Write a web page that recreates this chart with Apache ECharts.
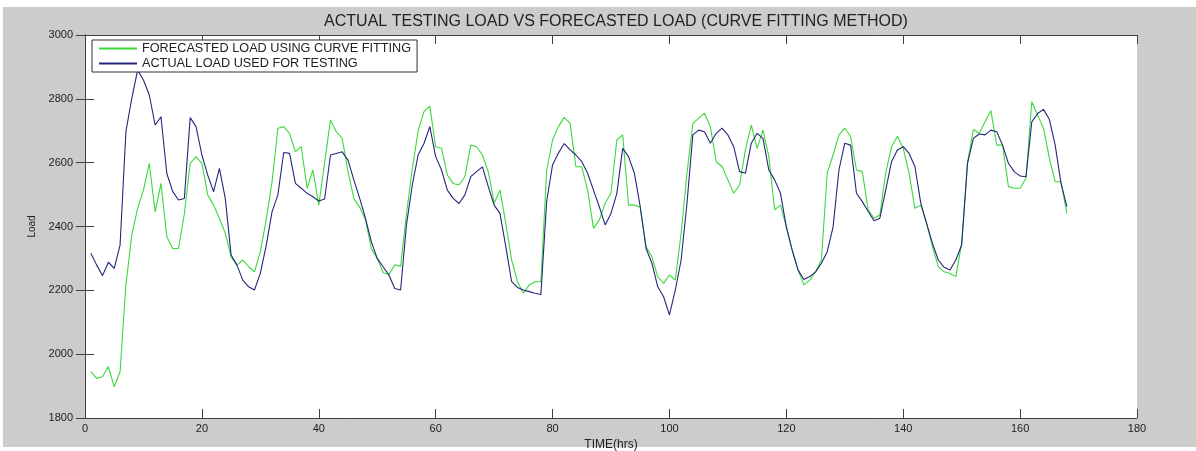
<!DOCTYPE html>
<html>
<head>
<meta charset="utf-8">
<script src="https://cdn.jsdelivr.net/npm/echarts@6/dist/echarts.min.js"></script>
<style>
html,body{margin:0;padding:0;background:#ffffff;}
#c{width:1196px;height:451px;}
</style>
</head>
<body>
<div id="c"></div>
<script>
const hours = Array.from({length:168}, (_, i) => i + 1);
const forecastLoad = [
1945,1924,1929,1961,1898,1945,2217,2373,2457,2514,2598,2446,2535,2368,2331,2331,2440,2598,2619,2598,
2499,2467,2425,2379,2305,2279,2295,2274,2258,2321,2420,2540,2708,2713,2692,2634,2650,2520,2577,2467,
2600,2734,2697,2676,2572,2488,2460,2420,2330,2300,2255,2250,2280,2275,2440,2580,2700,2760,2777,2650,
2645,2561,2535,2530,2556,2655,2650,2624,2572,2473,2514,2410,2295,2227,2191,2217,2227,2227,2577,2671,
2713,2742,2723,2587,2587,2514,2394,2420,2473,2505,2671,2687,2467,2467,2460,2337,2305,2243,2222,2248,
2232,2379,2567,2723,2739,2755,2713,2603,2588,2546,2504,2530,2640,2718,2645,2702,2619,2452,2467,2399,
2326,2264,2217,2232,2258,2295,2567,2624,2687,2708,2682,2577,2572,2452,2426,2436,2567,2650,2683,2645,
2567,2457,2467,2410,2337,2274,2258,2253,2243,2347,2600,2704,2692,2728,2763,2655,2655,2525,2520,2520,
2551,2791,2749,2708,2614,2540,2540,2441
];
const actualLoad = [
2316,2279,2246,2288,2269,2342,2697,2801,2890,2859,2812,2718,2744,2566,2510,2483,2488,2741,2713,2624,
2561,2509,2582,2488,2311,2279,2232,2211,2201,2253,2340,2446,2499,2632,2629,2535,2520,2504,2493,2480,
2486,2624,2629,2634,2608,2546,2488,2425,2352,2300,2274,2248,2206,2201,2405,2530,2624,2660,2713,2619,
2577,2514,2488,2472,2499,2556,2572,2587,2525,2467,2441,2337,2227,2209,2201,2196,2191,2187,2480,2593,
2630,2660,2640,2624,2603,2567,2514,2462,2405,2441,2504,2645,2619,2567,2462,2331,2285,2211,2180,2123,
2201,2295,2473,2687,2702,2697,2661,2692,2708,2687,2650,2572,2567,2661,2692,2676,2577,2546,2504,2399,
2326,2264,2234,2243,2258,2285,2321,2399,2577,2661,2655,2504,2478,2447,2418,2426,2514,2603,2640,2650,
2629,2588,2473,2410,2347,2295,2272,2264,2295,2342,2598,2676,2690,2687,2702,2697,2655,2598,2572,2558,
2556,2728,2754,2767,2736,2655,2535,2462
];
const seriesNames = ['FORECASTED LOAD USING CURVE FITTING', 'ACTUAL LOAD USED FOR TESTING'];
const chartTitle = 'ACTUAL TESTING LOAD VS FORECASTED LOAD (CURVE FITTING METHOD)';
const xName = 'TIME(hrs)';
const yName = 'Load';

const chart = echarts.init(document.getElementById('c'), null, {renderer:'canvas'});
const axisCol = '#404040';
const ff = 'Liberation Sans, Arial, sans-serif';
const labelStyle = {color:'#222', fontFamily:ff, fontSize:11};
const mainX = {
  type:'value', min:0, max:180, interval:20, position:'bottom',
  axisLine:{show:true, lineStyle:{color:axisCol, width:1}},
  axisTick:{show:true, inside:true, length:9, lineStyle:{color:axisCol}},
  axisLabel:Object.assign({margin:5, formatter:v=>String(v)}, labelStyle),
  splitLine:{show:false},
  name:xName, nameLocation:'middle', nameGap:17,
  nameTextStyle:{color:'#222', fontFamily:ff, fontSize:12}
};
const topX = {
  type:'value', min:0, max:180, interval:20, position:'top',
  axisLine:{show:true, lineStyle:{color:axisCol, width:1}},
  axisTick:{show:true, inside:true, length:9, lineStyle:{color:axisCol}},
  axisLabel:{show:false}, splitLine:{show:false}
};
const mainY = {
  type:'value', min:1800, max:3000, interval:200, position:'left',
  axisLine:{show:true, lineStyle:{color:axisCol, width:1}},
  axisTick:{show:true, inside:true, length:9, lineStyle:{color:axisCol}},
  axisLabel:Object.assign({margin:12, formatter:v=>String(v)}, labelStyle),
  splitLine:{show:false},
  name:yName, nameLocation:'middle', nameGap:41, nameRotate:90,
  nameTextStyle:{color:'#222', fontFamily:ff, fontSize:10}
};
const rightY = {
  type:'value', min:1800, max:3000, interval:200, position:'right',
  axisLine:{show:true, lineStyle:{color:axisCol, width:1}},
  axisTick:{show:true, inside:true, length:9, lineStyle:{color:axisCol}},
  axisLabel:{show:false}, splitLine:{show:false}
};

chart.setOption({
  animation:false,
  backgroundColor:'#ffffff',
  graphic:[{type:'rect', z:-10, silent:true, shape:{x:3, y:7, width:1193, height:440}, style:{fill:'#cccccc'}}],
  title:{
    text:chartTitle, left:611, top:9, textAlign:'center',
    textStyle:{color:'#222', fontFamily:ff, fontSize:16, fontWeight:'normal'}
  },
  grid:{left:85, top:35, right:59, bottom:33, show:true, backgroundColor:'#ffffff', borderWidth:0,
        containLabel:false, outerBoundsMode:'none'},
  legend:{
    orient:'vertical', left:92, top:40, itemWidth:38, itemHeight:2, itemGap:2,
    padding:[2,6,2,7], borderColor:'#333', borderWidth:1, backgroundColor:'#ffffff',
    icon:'rect',
    textStyle:{color:'#222', fontFamily:ff, fontSize:12.7},
    data:seriesNames
  },
  xAxis:[mainX, topX],
  yAxis:[mainY, rightY],
  series:[
    {name:seriesNames[0], type:'line', showSymbol:false, symbol:'none', xAxisIndex:0, yAxisIndex:0,
     data:hours.map((h,i)=>[h, forecastLoad[i]]), lineStyle:{color:'#3bd93b', width:1.1}, itemStyle:{color:'#3bd93b'}},
    {name:seriesNames[1], type:'line', showSymbol:false, symbol:'none', xAxisIndex:0, yAxisIndex:0,
     data:hours.map((h,i)=>[h, actualLoad[i]]), lineStyle:{color:'#25257d', width:1.1}, itemStyle:{color:'#25257d'}}
  ]
});
</script>
</body>
</html>
